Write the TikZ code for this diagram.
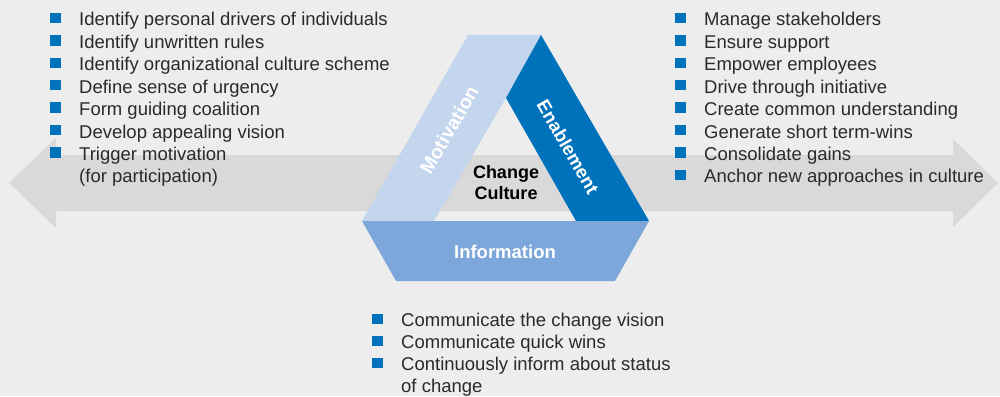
\documentclass[tikz,border=0pt]{standalone}
\usepackage{fontspec}
\setmainfont{Liberation Sans}
\definecolor{bgc}{HTML}{EDEDED}
\definecolor{arrc}{HTML}{D9D9D9}
\definecolor{motc}{HTML}{C4D5EE}
\definecolor{enac}{HTML}{0072BC}
\definecolor{infc}{HTML}{7DA7DA}
\definecolor{txtc}{HTML}{2A2A2A}
\tikzset{
  item/.style={anchor=base west, inner sep=0pt, font=\fontsize{18.5}{22}\selectfont, text=txtc},
  bullet/.style={fill=enac, minimum size=10.5pt, inner sep=0pt, draw=none},
  band/.style={white, font=\bfseries\fontsize{18.5}{21}\selectfont, inner sep=0pt},
}
\begin{document}
\begin{tikzpicture}[x=1pt,y=-1pt]
\fill[bgc] (0,0) rectangle (1000,396);
\useasboundingbox (0,0) rectangle (1000,396);
% double arrow
\fill[arrc] (9,183) -- (56,138) -- (56,155) -- (953,155) -- (953,139) -- (998,183)
  -- (953,227) -- (953,211) -- (56,211) -- (56,228) -- cycle;
% triangle bands
\coordinate (OL) at (362,221);
\coordinate (OR) at (649,221);
\coordinate (TL) at (468,35);
\coordinate (TR) at (541,35);
\coordinate (IT) at (506,98);
\coordinate (IL) at (434,221);
\coordinate (IR) at (576,221);
\coordinate (BL) at (396,281);
\coordinate (BR) at (615,281);
\fill[motc] (OL) -- (TL) -- (TR) -- (IT) -- (IL) -- cycle;
\fill[enac] (TR) -- (OR) -- (IR) -- (IT) -- cycle;
\fill[infc] (OL) -- (OR) -- (BR) -- (BL) -- cycle;
\node[band, rotate=60, font=\bfseries\fontsize{19.5}{21}\selectfont] (mot) at (449,130) {Motivation};
\node[band, rotate=-60] (ena) at (568,147) {Enablement};
\node[band] (inf) at (505,252) {Information};
\node[align=center, font=\bfseries\fontsize{18}{21}\selectfont, text=black, inner sep=0pt] (cc) at (506,183) {Change\\Culture};
% left list
\foreach \t [count=\i] in {Identify personal drivers of individuals, Identify unwritten rules,
  Identify organizational culture scheme, Define sense of urgency, Form guiding coalition,
  Develop appealing vision, Trigger motivation}{
  \node[bullet] (lb\i) at (55.5,{18+(\i-1)*22.4}) {};
  \node[item] (l\i) at (79,{26+(\i-1)*22.4}) {\t};
}
\node[item] (l8) at (79,{26+7*22.4}) {(for participation)};
% right list
\foreach \t [count=\i] in {Manage stakeholders, Ensure support, Empower employees,
  Drive through initiative, Create common understanding, Generate short term-wins,
  Consolidate gains, Anchor new approaches in culture}{
  \node[bullet] (rb\i) at (680.5,{18+(\i-1)*22.4}) {};
  \node[item] (r\i) at (704,{26+(\i-1)*22.4}) {\t};
}
% bottom list
\foreach \t [count=\i] in {Communicate the change vision, Communicate quick wins,
  Continuously inform about status}{
  \node[bullet] (bb\i) at (377.5,{319+(\i-1)*22}) {};
  \node[item] (b\i) at (401,{326+(\i-1)*22}) {\t};
}
\node[item] (b4) at (401,{326+3*22}) {of change};
\end{tikzpicture}
\end{document}
